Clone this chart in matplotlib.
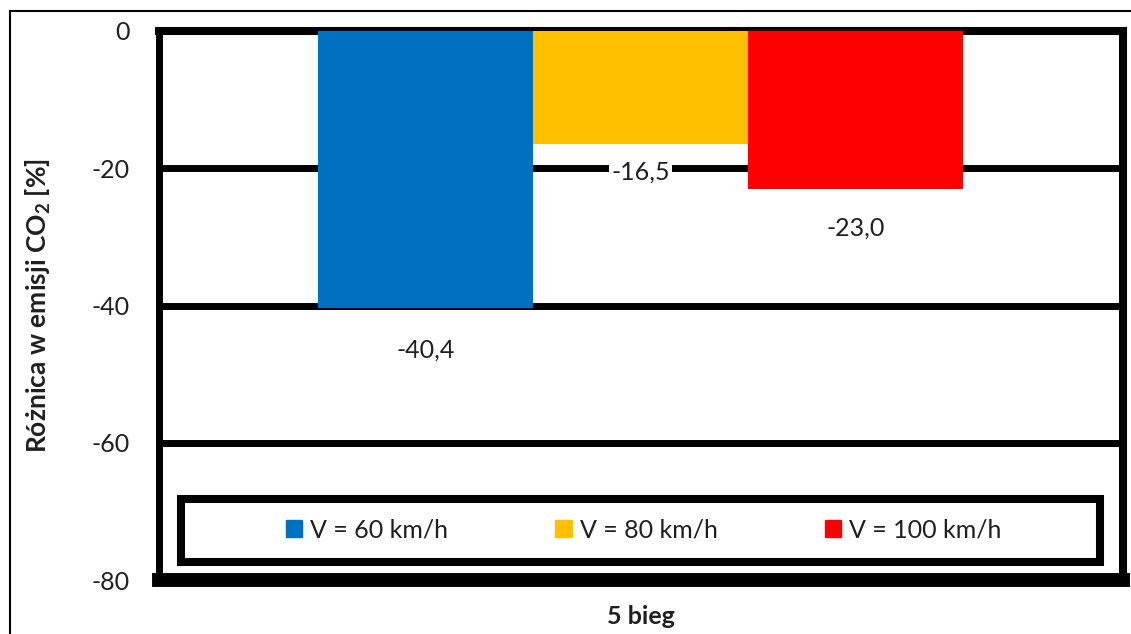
import matplotlib
matplotlib.use("Agg")
import matplotlib.pyplot as plt
from matplotlib.lines import Line2D
from matplotlib.patches import Rectangle

plt.rcParams['font.family'] = ['Lato', 'DejaVu Sans']
plt.rcParams['mathtext.fontset'] = 'custom'
plt.rcParams['mathtext.rm'] = 'Lato:bold'
plt.rcParams['mathtext.it'] = 'Lato:bold'
plt.rcParams['mathtext.bf'] = 'Lato:bold'

# ---- data ----
category = "5 bieg"
series_labels = ["V = 60 km/h", "V = 80 km/h", "V = 100 km/h"]
values = [-40.4, -16.5, -23.0]
value_texts = ["-40,4", "-16,5", "-23,0"]
colors = ["#0070C0", "#FFC000", "#FF0000"]
label_offsets_px = [42, 28, 39]
y_ticks = [0, -20, -40, -60, -80]

TXT = "#1f1f1f"

fig = plt.figure(figsize=(11.31, 6.34), dpi=100)
W, H = 1131, 634
ax = fig.add_axes([158.5 / W, 1 - 580 / H, (1123 - 158.5) / W, (580 - 31) / H])

bw = 0.223
n = len(values)
xs = [(i - (n - 1) / 2) * bw for i in range(n)]
bars = ax.bar(xs, values, width=bw, color=colors, zorder=3, linewidth=0)

for x, v, t, off in zip(xs, values, value_texts, label_offsets_px):
    ann = ax.annotate(t, xy=(x, v), xytext=(0, -off * 0.72), textcoords='offset points',
                      ha='center', va='center', fontsize=18, color=TXT, zorder=4)
    ann.set_bbox(dict(facecolor='white', edgecolor='none', pad=1.5))

ax.set_xlim(-0.5, 0.5)
ax.set_ylim(-80, 0)
ax.set_yticks(y_ticks)
ax.set_yticklabels([str(t) for t in y_ticks])
ax.set_xticks([])
ax.tick_params(axis='y', length=0, pad=21, labelsize=18, labelcolor=TXT)

ax.set_axisbelow(True)
ax.yaxis.grid(True, color='black', linewidth=5.0)

for side, lw in [('top', 5.8), ('left', 5.0), ('right', 5.8), ('bottom', 10.0)]:
    ax.spines[side].set_linewidth(lw)
    ax.spines[side].set_color('black')
    ax.spines[side].set_zorder(2.5)

yl = ax.set_ylabel(r"Różnica w emisji CO$_2$ [%]", fontsize=19, fontweight='bold', color=TXT)
yl.set_va('center')
ax.yaxis.set_label_coords((38 - 158.5) / (1123 - 158.5), 0.5)
xl = ax.set_xlabel(category, fontsize=18, fontweight='bold', color=TXT)
xl.set_va('center')
ax.xaxis.set_label_coords(0.5, -(616 - 580) / (580 - 31))

# legend
handles = [Rectangle((0, 0), 1, 1, color=c) for c in colors]
leg = ax.legend(handles, series_labels, loc='center', bbox_to_anchor=(0.503, 0.091),
                ncol=3, frameon=False, fontsize=18, handlelength=0.65, handleheight=0.65,
                handletextpad=0.32, columnspacing=4.3, labelcolor=TXT)
leg.set_zorder(6)
frame = Rectangle((0.0233, 0.0328), 0.976 - 0.0233, 0.1475 - 0.0328, transform=ax.transAxes,
                  facecolor='white', edgecolor='black', linewidth=5.8, zorder=5)
ax.add_patch(frame)

# outer figure border (top and left)
fig.add_artist(Line2D([10 / W, 1130 / W], [1 - 11 / H, 1 - 11 / H], color='black', linewidth=1.5))
fig.add_artist(Line2D([10 / W, 10 / W], [1 - 11 / H, 0], color='black', linewidth=1.5))

fig.savefig("out.png", dpi=100, facecolor='white')
